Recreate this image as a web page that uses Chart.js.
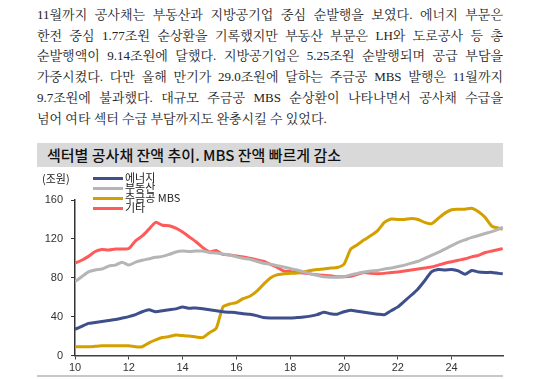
<!DOCTYPE html>
<html><head><meta charset="utf-8">
<script src="https://cdn.jsdelivr.net/npm/chart.js@4.4.1/dist/chart.umd.min.js"></script>
<style>
html,body{margin:0;padding:0;background:#fff;width:539px;height:379px;overflow:hidden;position:relative}
#para{position:absolute;left:37px;top:5px;width:466px;font-family:"Liberation Serif","Noto Serif CJK KR","Noto Sans CJK KR",serif;font-size:13px;line-height:20.7px;color:#222}
#para div{text-align:justify;text-align-last:justify}
#para div.last{text-align-last:left}
#title{position:absolute;left:37px;top:143px;width:466px;height:24px;background:#d9d9d9;font-family:"Noto Sans CJK KR",sans-serif;font-size:15px;font-weight:500;line-height:24px;color:#111;box-sizing:border-box;padding-left:10px}
#wrap{position:absolute;left:0;top:170px;width:539px;height:209px}
#unit{position:absolute;left:42px;top:170px;font-family:"Noto Sans CJK KR",sans-serif;font-size:11px;line-height:16px;color:#222}
#legend{position:absolute;left:93px;top:173px;font-family:"Noto Sans CJK KR",sans-serif;font-size:11px;color:#222}
.li{position:absolute;left:0;height:10px;white-space:nowrap}
.li span.sw{position:absolute;left:0;top:4px;width:30px;height:3px}
.li span.tx{position:absolute;left:32px;top:-4px;line-height:16px}
#bline{position:absolute;left:37px;top:375px;width:466px;height:2px;background:#c8c8c8}
</style></head>
<body>
<div id="para">
<div>11월까지 공사채는 부동산과 지방공기업 중심 순발행을 보였다. 에너지 부문은</div>
<div>한전 중심 1.77조원 순상환을 기록했지만 부동산 부문은 LH와 도로공사 등 총</div>
<div>순발행액이 9.14조원에 달했다. 지방공기업은 5.25조원 순발행되며 공급 부담을</div>
<div>가중시켰다. 다만 올해 만기가 29.0조원에 달하는 주금공 MBS 발행은 11월까지</div>
<div>9.7조원에 불과했다. 대규모 주금공 MBS 순상환이 나타나면서 공사채 수급을</div>
<div class="last">넘어 여타 섹터 수급 부담까지도 완충시킬 수 있었다.</div>
</div>
<div id="title">섹터별 공사채 잔액 추이. MBS 잔액 빠르게 감소</div>
<div id="wrap"><canvas id="c" width="539" height="209" style="width:539px;height:209px"></canvas></div>
<div id="unit">(조원)</div>
<div id="legend"></div>
<div id="bline"></div>
<script>
const years = [10,10.25,10.5,10.75,11,11.25,11.5,11.75,12,12.25,12.5,12.75,13,13.25,13.5,13.75,
14,14.25,14.5,14.75,15,15.25,15.5,15.75,16,16.25,16.5,16.75,17,17.25,17.5,17.75,
18,18.25,18.5,18.75,19,19.25,19.5,19.75,20,20.25,20.5,20.75,21,21.25,21.5,21.75,
22,22.25,22.5,22.75,23,23.25,23.5,23.75,24,24.25,24.5,24.75,25,25.25,25.5,25.75,25.9];

const energy = [27,30,33,34,35,36,37,38.5,40,42,45,47,45,46,47,48,
50,48.5,49,48,47,46,45,44.5,44,43,42.5,41,39,38.5,38.5,38.5,
38.5,39,39.5,40.5,42,44.5,43,42.5,45,46.5,45.5,44.5,43.5,42.5,42,46,
50,56,62,68.5,77,86,88.5,88,88.5,87,83.5,87.5,86,85.5,85.5,84.5,84];

const realEstate = [76,81,86,88,89,92,93,96,93,96,98,99.5,101,102,104,106.5,
107.5,107,107.5,107.5,106,105.5,104.5,103.5,101.5,100,99,97,95,94,92.5,91,
89.5,88,86,84,82.5,81,80.5,80.5,81,83,84.5,86,87,87.5,89,90,
91.5,93,95,97,100,103,106,109.5,113,116.5,119,121.5,123.5,125.5,127.5,130,132];

const mbs = [9,9,9,9.5,10,10,10,10,10,9,9,13,16,18.5,19.5,21,
20.5,20,19,18.5,23.5,28,50,53,54.5,58.5,61,66,73,79.5,83,84,
84.5,85,86,87.5,88.5,89,90,90.5,94,109.5,114,119,123.5,128.5,137,140.5,
140,140,141,140,137,135.5,141,146.5,150,150.5,150.5,151.5,148,142,133,131,130];

const others = [95,98,102,107,109,108.5,109.5,109.5,110,118,123,130,137,134,133.5,131,
127,122,117,111,106.5,108,104,103.5,102.5,101.5,100,98.5,97,94,91,87,
86.5,85.5,85,84,83,82.5,82,81,81,81.5,83.5,85.5,84.5,84,84.5,85.5,
86,87,88,89,90,91,93,95,96.5,98,99.5,101.5,103,106,107.5,109,110];

const seriesNames = ['에너지','부동산','주금공 MBS','기타'];
const seriesColors = ['#3e4f8b','#b5b5b5','#d3a000','#ff5a5a'];
const seriesValues = [energy, realEstate, mbs, others];
const xTicks = [10,12,14,16,18,20,22,24];
const yTicks = [0,40,80,120,160];

const datasets = seriesValues.map((vals,i)=>({
  label: seriesNames[i],
  data: vals.map((v,j)=>({x:years[j],y:v})),
  borderColor: seriesColors[i],
  backgroundColor: seriesColors[i],
  borderWidth: 3,
  pointRadius: 0,
  tension: 0.2,
  fill: false
}));

const leg = document.getElementById('legend');
seriesNames.forEach((n,i)=>{
  const d = document.createElement('div');
  d.className='li';
  d.style.top = (i*10)+'px';
  d.innerHTML = '<span class="sw" style="background:'+seriesColors[i]+'"></span><span class="tx">'+n+'</span>';
  leg.appendChild(d);
});

new Chart(document.getElementById('c'), {
  type:'line',
  data:{datasets},
  options:{
    responsive:false, animation:false, devicePixelRatio:1,
    layout:{padding:{left:0,right:36,top:30,bottom:0}},
    plugins:{legend:{display:false},tooltip:{enabled:false}},
    scales:{
      x:{type:'linear',min:10,max:25.91,
        afterBuildTicks:s=>{s.ticks=xTicks.map(v=>({value:v}));},
        afterFit:s=>{s.height=23.5;},
        grid:{display:true,drawOnChartArea:false,drawTicks:true,tickLength:4,color:'#404040',lineWidth:1},
        border:{display:true,color:'#404040',width:1.5},
        ticks:{font:{family:'Liberation Sans',size:11},color:'#333',padding:2,maxRotation:0,autoSkip:false}
      },
      y:{type:'linear',min:0,max:160,
        afterBuildTicks:s=>{s.ticks=yTicks.map(v=>({value:v}));},
        afterFit:s=>{s.width=75;},
        grid:{display:true,drawOnChartArea:false,drawTicks:true,tickLength:4,color:'#333',lineWidth:1},
        border:{display:true,color:'#333',width:1.5},
        ticks:{font:{family:'Liberation Sans',size:11},color:'#333',padding:8}
      }
    }
  }
});
</script>
</body></html>
